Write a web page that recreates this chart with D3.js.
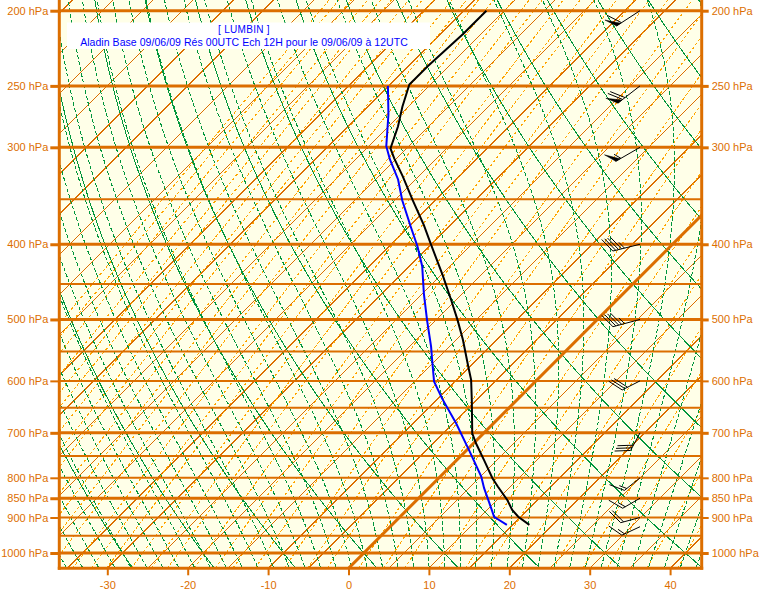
<!DOCTYPE html>
<html><head><meta charset="utf-8">
<script src="https://cdn.jsdelivr.net/npm/d3@7"></script>
<style>
html,body{margin:0;padding:0;background:#fff;}
svg{display:block;}
text{font-family:"Liberation Sans",Arial,sans-serif;}
</style></head><body>
<svg id="c" width="766" height="598"></svg>
<script>
// ---------- data ----------
const isobarLevels = [200,250,300,350,400,450,500,550,600,650,700,750,800,850,900,950,1000];
const thickIsobars = [200,250,300,400,500,700,850,1000];
const pressureTicks = [200,250,300,400,500,600,700,800,850,900,1000];
const tempTicks = [-30,-20,-10,0,10,20,30,40];
const mixingRatios = [0.01,0.012,0.015,0.02,0.025,0.03,0.04,0.05,0.06,0.08,0.1,0.12,0.15,0.2,0.25,0.3,0.4,0.5,0.6,0.8,1,1.2,1.5,2,2.5,3,4,5,6,8,10,12,15,20,25,30,40,50];

const tempP = [200,209,214,224,236,249,266,282,301,310,327,351,378,399,438,472,501,531,575,598,635,701,722,759,801,821,855,880,898,920];
const tempT = [-52.2,-52.2,-52.2,-52.4,-52.6,-52.6,-50.7,-48.8,-47.0,-45.3,-42.0,-37.8,-33.3,-30.2,-24.8,-20.6,-17.3,-14.2,-10.2,-8.2,-5.6,-1.4,0.3,3.4,6.7,8.4,11.3,13.1,14.7,17.1];

const dewP = [250,272,299,311,330,351,380,403,427,463,501,542,564,601,632,680,737,797,825,859,898,904,920];
const dewT = [-55.1,-51.5,-47.8,-45.7,-42.2,-39.1,-34.7,-31.4,-28.4,-24.8,-21.1,-17.3,-15.5,-12.6,-9.5,-4.7,0.3,5.1,6.9,9.2,11.7,12.4,14.3];

const windP = [200,250,300,400,500,600,700,800,850,900,925];
const windDir = [237,232,240,256,255,243,208,231,240,255,245];
const windSpd = [60,70,55,45,45,30,30,15,15,20,15];

const titleLine1 = "[ LUMBIN ]";
const titleLine2 = "Aladin Base 09/06/09 Rés 00UTC Ech 12H pour le 09/06/09 à 12UTC";

// ---------- geometry ----------
const plot = {left: 59.3, right: 701.7, top: 0, bottom: 568.3};
const y = d3.scaleLog().domain([1000, 200]).range([553, 10.7]);
const xT = d3.scaleLinear().domain([-30, 40]).range([107.3, 670.1]);
const sx = (T, p) => xT(T) + (plot.bottom - y(p));

const ORANGE = "#dc6e00", DASHOR = "#ffa500", GREEN = "#00963c", BG = "#ffffe8";

const svg = d3.select("#c");
svg.append("defs").append("clipPath").attr("id","clip").append("rect")
  .attr("x", plot.left).attr("y", plot.top)
  .attr("width", plot.right - plot.left).attr("height", plot.bottom - plot.top);

svg.append("rect").attr("x", plot.left).attr("y", plot.top)
  .attr("width", plot.right - plot.left).attr("height", plot.bottom - plot.top).attr("fill", BG);

const g = svg.append("g").attr("clip-path", "url(#clip)");
const line = d3.line().x(d => sx(d[1], d[0])).y(d => y(d[0]));
const pSamples = d3.range(0, 121).map(i => 1060 * Math.pow(185 / 1060, i / 120));

// isotherms
const isoT = d3.range(-110, 50, 5);
g.append("g").selectAll("path").data(isoT.filter(t => t !== 0)).join("path")
  .attr("d", t => line([[1060, t], [185, t]]))
  .attr("stroke", ORANGE).attr("stroke-width", 1).attr("fill", "none")
  .attr("shape-rendering", "crispEdges");

// mixing ratio lines
function tdFromW(w, p) {
  const e = p * w / (622 + w);
  const l = Math.log(e / 6.112);
  return 243.5 * l / (17.67 - l);
}
g.append("g").selectAll("path").data(mixingRatios).join("path")
  .attr("d", w => line(pSamples.map(p => [p, tdFromW(w, p)])))
  .attr("stroke", DASHOR).attr("stroke-width", 1).attr("fill", "none")
  .attr("stroke-dasharray", "3,2").attr("shape-rendering", "crispEdges");

// dry adiabats
const dryTh = d3.range(-40, 150, 10);
g.append("g").selectAll("path").data(dryTh).join("path")
  .attr("d", t0 => line(pSamples.map(p => [p, (t0 + 273.15) * Math.pow(p / 1000, 0.2857) - 273.15])))
  .attr("stroke", GREEN).attr("stroke-width", 1).attr("fill", "none")
  .attr("shape-rendering", "crispEdges");

// moist adiabats
const Rd = 287.04, Cp = 1005.7, Lv = 2.501e6, EPS = 0.622;
function dTdp(T, p) {
  const tc = T - 273.15;
  const es = 6.112 * Math.exp(17.67 * tc / (tc + 243.5));
  const rs = EPS * es / (p - es);
  return (Rd * T + Lv * rs) / (Cp + Lv * Lv * rs * EPS / (Rd * T * T)) / p;
}
function rk4(T, p, dp) {
  const k1 = dTdp(T, p);
  const k2 = dTdp(T + dp / 2 * k1, p + dp / 2);
  const k3 = dTdp(T + dp / 2 * k2, p + dp / 2);
  const k4 = dTdp(T + dp * k3, p + dp);
  return T + dp / 6 * (k1 + 2 * k2 + 2 * k3 + k4);
}
function moistCurve(tw) {
  let T = tw + 273.15, p = 1000;
  const up = [[p, tw]];
  while (p > 185) { T = rk4(T, p, -4); p -= 4; up.push([p, T - 273.15]); }
  T = tw + 273.15; p = 1000; const down = [];
  while (p < 1060) { T = rk4(T, p, 4); p += 4; down.push([p, T - 273.15]); }
  return down.reverse().concat(up);
}
const moistTw = d3.range(-40, 48, 2);
g.append("g").selectAll("path").data(moistTw).join("path")
  .attr("d", tw => line(moistCurve(tw)))
  .attr("stroke", GREEN).attr("stroke-width", 1).attr("fill", "none")
  .attr("stroke-dasharray", "4,2").attr("shape-rendering", "crispEdges");

// isobars
g.append("g").selectAll("line").data(isobarLevels).join("line")
  .attr("x1", plot.left).attr("x2", plot.right)
  .attr("y1", p => y(p)).attr("y2", p => y(p))
  .attr("stroke", ORANGE)
  .attr("stroke-width", p => thickIsobars.includes(p) ? 3 : 2);

// 0 degree isotherm
g.append("path").attr("d", line([[1060, 0], [185, 0]]))
  .attr("stroke", ORANGE).attr("stroke-width", 3).attr("fill", "none");

// sounding
const tempData = tempP.map((p, i) => [p, tempT[i]]);
const dewData = dewP.map((p, i) => [p, dewT[i]]);
g.append("path").attr("d", line(dewData)).attr("stroke", "#0000ff")
  .attr("stroke-width", 2).attr("fill", "none");
g.append("path").attr("d", line(tempData)).attr("stroke", "#000")
  .attr("stroke-width", 2).attr("fill", "none");

// wind barbs
const barbX = 640;
const bg = g.append("g");
windP.forEach((p, i) => {
  const rad = windDir[i] * Math.PI / 180;
  const d = [Math.sin(rad), -Math.cos(rad)];
  const f = [0.5 * d[0] - 0.866 * d[1], 0.866 * d[0] + 0.5 * d[1]];
  const ox = barbX, oy = y(p);
  const L = windSpd[i] >= 40 ? 28 : 20;
  const P = s => [ox + d[0] * s, oy + d[1] * s];
  const end = P(L);
  bg.append("line").attr("x1", ox).attr("y1", oy).attr("x2", end[0]).attr("y2", end[1])
    .attr("stroke", "#000").attr("stroke-width", 1);
  let spd = Math.round(windSpd[i] / 5) * 5;
  let pos = L;
  while (spd >= 50) {
    const a = P(pos), b = P(pos - 5);
    const tip = [a[0] + f[0] * 13, a[1] + f[1] * 13];
    bg.append("path").attr("d", `M${a}L${tip}L${b}Z`).attr("fill", "#000").attr("stroke", "#000").attr("stroke-width", 0.5);
    pos -= 6; spd -= 50;
  }
  while (spd >= 10) {
    const a = P(pos);
    bg.append("line").attr("x1", a[0]).attr("y1", a[1])
      .attr("x2", a[0] + f[0] * 16).attr("y2", a[1] + f[1] * 16)
      .attr("stroke", "#000").attr("stroke-width", 1);
    pos -= 3; spd -= 10;
  }
  if (spd >= 5) {
    const a = P(pos);
    bg.append("line").attr("x1", a[0]).attr("y1", a[1])
      .attr("x2", a[0] + f[0] * 8).attr("y2", a[1] + f[1] * 8)
      .attr("stroke", "#000").attr("stroke-width", 1);
  }
});

// title box
svg.append("rect").attr("x", 67).attr("y", 22.5).attr("width", 363).attr("height", 26.5).attr("fill", "#fff");
svg.append("text").attr("x", 244).attr("y", 32.5).attr("text-anchor", "middle")
  .attr("fill", "#0000ff").attr("font-size", "10px").attr("letter-spacing", "0.3px").text(titleLine1);
svg.append("text").attr("x", 244).attr("y", 45.5).attr("text-anchor", "middle")
  .attr("fill", "#0000ff").attr("font-size", "10.5px").attr("letter-spacing", "0.05px").text(titleLine2);

// frame
const frame = svg.append("g").attr("stroke", ORANGE).attr("stroke-width", 3).attr("fill", "none");
frame.append("line").attr("x1", plot.left).attr("x2", plot.left).attr("y1", 0).attr("y2", plot.bottom + 1.5);
frame.append("line").attr("x1", plot.right).attr("x2", plot.right).attr("y1", 0).attr("y2", plot.bottom + 1.5);
frame.append("line").attr("x1", plot.left - 1.5).attr("x2", plot.right + 1.5).attr("y1", plot.bottom).attr("y2", plot.bottom);

// axes
function styleAxis(sel) {
  sel.select(".domain").remove();
  sel.selectAll(".tick text").attr("fill", ORANGE).attr("font-size", "11px")
    .attr("font-family", '"Liberation Sans",Arial,sans-serif');
}
const leftAx = svg.append("g").attr("transform", `translate(${plot.left},0)`)
  .call(d3.axisLeft(y).tickValues(pressureTicks).tickFormat(d => d + " hPa").tickSize(9).tickPadding(2));
styleAxis(leftAx);
leftAx.selectAll(".tick line").attr("stroke", ORANGE).attr("stroke-width", d => thickIsobars.includes(d) ? 3 : 2);
const rightAx = svg.append("g").attr("transform", `translate(${plot.right},0)`)
  .call(d3.axisRight(y).tickValues(pressureTicks).tickFormat(d => d + " hPa").tickSize(7).tickPadding(3));
styleAxis(rightAx);
rightAx.selectAll(".tick line").attr("stroke", ORANGE).attr("stroke-width", d => thickIsobars.includes(d) ? 3 : 2);
const botAx = svg.append("g").attr("transform", `translate(0,${plot.bottom})`)
  .call(d3.axisBottom(xT).tickValues(tempTicks).tickFormat(d => String(d)).tickSize(7).tickPadding(6));
styleAxis(botAx);
botAx.selectAll(".tick line").attr("stroke", ORANGE).attr("stroke-width", 2);
</script>
</body></html>
